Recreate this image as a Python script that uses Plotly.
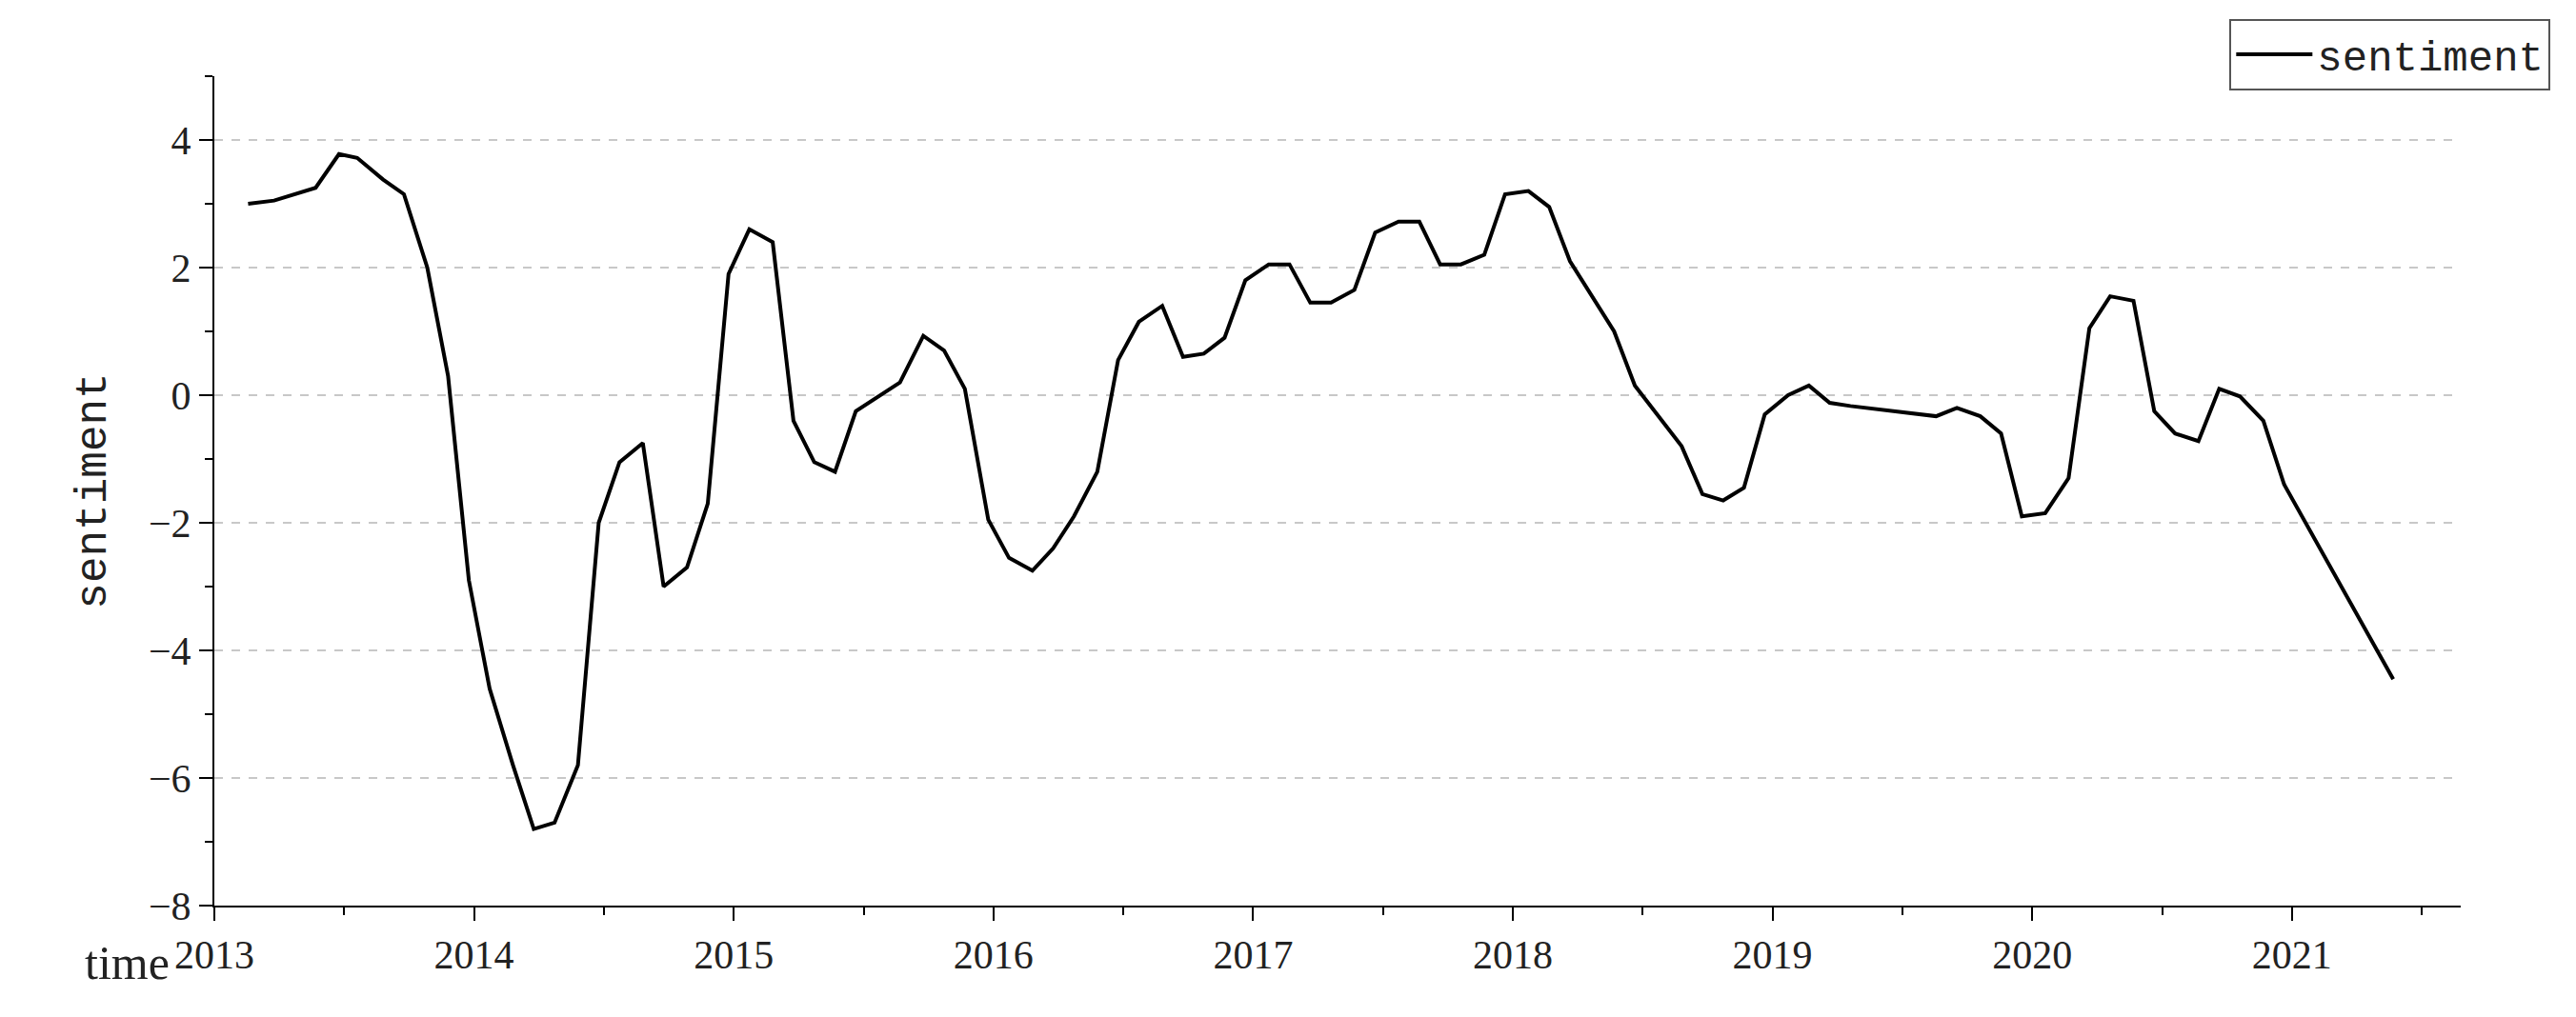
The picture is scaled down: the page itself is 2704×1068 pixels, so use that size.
import plotly.graph_objects as go

time = [2013.13,2013.23,2013.39,2013.48,2013.55,2013.65,2013.73,2013.82,2013.90,2013.98,
        2014.06,2014.15,2014.23,2014.31,2014.40,2014.48,2014.56,2014.65,2014.73,2014.82,
        2014.90,2014.98,2015.06,2015.15,2015.23,2015.31,2015.39,2015.47,2015.64,2015.73,
        2015.81,2015.89,2015.98,2016.06,2016.15,2016.23,2016.31,2016.40,2016.48,2016.56,
        2016.65,2016.73,2016.81,2016.89,2016.97,2017.06,2017.14,2017.22,2017.30,2017.39,
        2017.47,2017.56,2017.64,2017.72,2017.80,2017.89,2017.97,2018.06,2018.14,2018.22,
        2018.39,2018.47,2018.65,2018.73,2018.81,2018.89,2018.97,2019.06,2019.14,2019.22,
        2019.30,2019.63,2019.71,2019.80,2019.88,2019.96,2020.05,2020.14,2020.22,2020.30,
        2020.39,2020.47,2020.55,2020.64,2020.72,2020.80,2020.89,2020.97,2021.39]
sentiment = [3.0,3.05,3.25,3.78,3.72,3.38,3.15,2.0,0.3,-2.9,
             -4.6,-5.8,-6.8,-6.7,-5.8,-2.0,-1.05,-0.75,-3.0,-2.7,
             -1.7,1.9,2.6,2.4,-0.4,-1.05,-1.2,-0.25,0.2,0.93,
             0.7,0.1,-1.95,-2.55,-2.75,-2.4,-1.9,-1.2,0.55,1.15,
             1.4,0.6,0.65,0.9,1.8,2.05,2.05,1.45,1.45,1.65,
             2.55,2.72,2.72,2.05,2.05,2.2,3.15,3.2,2.95,2.1,
             1.0,0.15,-0.8,-1.55,-1.65,-1.45,-0.3,0.0,0.15,-0.12,
             -0.17,-0.33,-0.2,-0.33,-0.6,-1.9,-1.85,-1.3,1.05,1.55,
             1.48,-0.25,-0.6,-0.72,0.1,-0.02,-0.4,-1.4,-4.45]
year_ticks = [2013,2014,2015,2016,2017,2018,2019,2020,2021]
y_ticks = [-8,-6,-4,-2,0,2,4]

serif = "Liberation Serif"
mono = "Liberation Mono"

fig = go.Figure(go.Scatter(x=time, y=sentiment, mode="lines", name="sentiment",
                           line=dict(color="black", width=4)))
fig.update_layout(
    width=2704, height=1068, plot_bgcolor="white", paper_bgcolor="white",
    margin=dict(l=217, r=129, t=69, b=125),
    showlegend=True,
    legend=dict(x=1.04, xanchor="right", y=1.069, yanchor="top", xref="paper", yref="paper",
                bordercolor="#555", borderwidth=2, bgcolor="white", itemwidth=80,
                font=dict(family=mono, size=44, color="#222")),
    xaxis=dict(range=[2013, 2021.65], tickvals=year_ticks, ticktext=[str(v) for v in year_ticks],
               showgrid=False, zeroline=False, showline=True, linecolor="black", linewidth=2,
               ticks="outside", ticklen=14, tickwidth=2, tickcolor="black",
               minor=dict(dtick=0.5, tick0=2013, ticks="outside", ticklen=8, tickcolor="black", tickwidth=2),
               tickfont=dict(family=serif, size=42, color="#222")),
    yaxis=dict(range=[-8, 5], tickvals=y_ticks, ticktext=[str(v).replace("-", "−") for v in y_ticks],
               showgrid=True, gridcolor="#c8c8c8", griddash="dash", gridwidth=1.5,
               zeroline=False, showline=True, linecolor="black", linewidth=2,
               ticks="outside", ticklen=14, tickwidth=2, tickcolor="black",
               minor=dict(dtick=1, tick0=-8, ticks="outside", ticklen=8, tickcolor="black",
                          tickwidth=2, showgrid=False),
               tickfont=dict(family=serif, size=42, color="#222"),
               title=dict(text="sentiment", font=dict(family=mono, size=46, color="#222"), standoff=30)),
)
fig.add_annotation(text="time", x=0, xref="paper", y=0, yref="paper", xanchor="right",
                   yanchor="top", xshift=-45, yshift=-30, showarrow=False,
                   font=dict(family=serif, size=50, color="#222"))
fig.write_html("out.html")
